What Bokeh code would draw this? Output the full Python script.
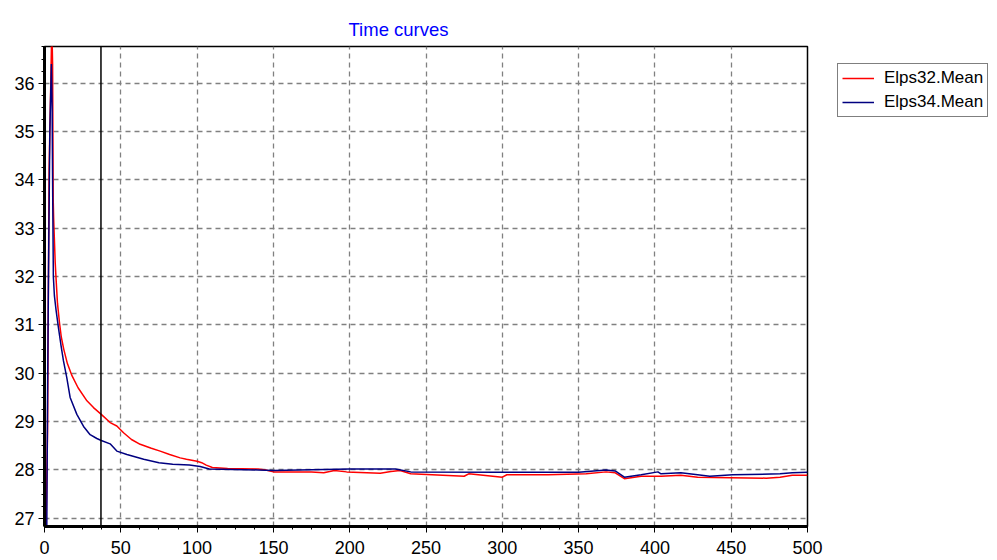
import numpy as np
from bokeh.plotting import figure
from bokeh.models import Range1d, FixedTicker, Span, Legend, LegendItem
from bokeh.embed import file_html
from bokeh.resources import INLINE

# ---------------- data ----------------
red_x = [0, 1, 2, 3, 4, 4.8, 5.3, 5.7, 6, 7, 7.5, 8.5, 9.8, 11, 12.6, 15, 18, 22, 27.8, 32.1,
         37.2, 43, 47.4, 51.8, 57, 62.7, 70, 75.8, 82, 88.9, 93, 100, 103, 106, 110, 120, 140,
         145, 150, 175, 183, 190, 198, 220, 227, 233, 240, 275, 278, 300, 303, 330, 355, 368,
         374, 380, 391, 404, 417, 428, 473, 482, 490, 500]
red_y = [26.8, 26.8, 28.8, 34.2, 35.8, 37.2, 36.4, 33.6, 33.2, 32.3, 32.0, 31.45, 31.05, 30.75,
         30.5, 30.2, 29.95, 29.7, 29.43, 29.29, 29.15, 28.98, 28.91, 28.77, 28.63, 28.53, 28.45,
         28.39, 28.32, 28.25, 28.22, 28.18, 28.15, 28.1, 28.05, 28.03, 28.02, 28.0, 27.96, 27.96,
         27.94, 27.99, 27.96, 27.93, 27.97, 27.99, 27.92, 27.87, 27.92, 27.85, 27.9, 27.9, 27.92,
         27.96, 27.94, 27.82, 27.87, 27.87, 27.89, 27.85, 27.83, 27.85, 27.89, 27.89]

blue_x = [0, 1.5, 2, 2.6, 3.5, 4.5, 5.0, 5.3, 5.8, 6.5, 7.6, 9.1, 10.7, 12.4, 14.6, 16.8,
          21.2, 25.6, 29.9, 34.3, 37.2, 43, 47.4, 54, 65, 75, 84, 95, 102, 108, 140, 150, 200,
          230, 240, 300, 350, 368, 374, 380, 391, 402, 404, 417, 428, 436, 451, 482, 490, 500]
blue_y = [26.8, 26.8, 29.5, 32.0, 35.0, 36.4, 35.5, 34.0, 32.0, 31.6, 31.3, 30.95, 30.6, 30.26,
          29.91, 29.5, 29.15, 28.9, 28.73, 28.65, 28.61, 28.54, 28.39, 28.32, 28.22, 28.15,
          28.12, 28.1, 28.07, 28.02, 28.0, 27.99, 28.02, 28.02, 27.96, 27.95, 27.95, 28.0,
          27.98, 27.85, 27.9, 27.96, 27.92, 27.94, 27.9, 27.87, 27.9, 27.92, 27.94, 27.95]

series_names = ["Elps32.Mean", "Elps34.Mean"]
x_ticks = [0, 50, 100, 150, 200, 250, 300, 350, 400, 450, 500]
y_ticks = [27, 28, 29, 30, 31, 32, 33, 34, 35, 36]
cursor_x = 37
title_text = "Time curves"

FONT = "Liberation Sans"

p = figure(frame_width=763, frame_height=480,
           min_border_left=44, min_border_right=190, min_border_top=46, min_border_bottom=34,
           x_range=Range1d(0, 500), y_range=Range1d(26.83, 36.76),
           output_backend="svg", toolbar_location=None)

p.background_fill_color = "white"
p.border_fill_color = "white"
p.outline_line_color = "black"
p.outline_line_width = 1.5

# title
p.title.text = title_text
p.title.align = "left"
p.title.offset = 304
p.title.text_color = "#0000ff"
p.title.text_font = FONT
p.title.text_font_style = "normal"
p.title.text_font_size = "18.5px"
p.title.standoff = 14

# axes
x_minor = list(np.arange(x_ticks[0], x_ticks[-1] + 0.1, (x_ticks[1] - x_ticks[0]) / 4))
y_minor = list(np.arange(y_ticks[0] - 1, y_ticks[-1] + 1.01, 0.25))
p.xaxis.ticker = FixedTicker(ticks=x_ticks, minor_ticks=x_minor)
p.yaxis.ticker = FixedTicker(ticks=y_ticks, minor_ticks=y_minor)
for ax in (p.xaxis[0], p.yaxis[0]):
    ax.axis_line_width = 3
    ax.axis_line_color = "black"
    ax.major_tick_out = 6
    ax.major_tick_in = 0
    ax.minor_tick_out = 3
    ax.minor_tick_in = 0
    ax.major_tick_line_color = "black"
    ax.minor_tick_line_color = "black"
    ax.major_label_text_font = FONT
    ax.major_label_text_font_size = "18px"
    ax.major_label_text_color = "black"
p.xaxis.major_label_standoff = 8
p.yaxis.major_label_standoff = 4

p.grid.grid_line_color = "#808080"
p.grid.grid_line_dash = "5 4"
p.grid.grid_line_width = 1.3

# cursor
p.add_layout(Span(location=cursor_x, dimension="height", line_color="black", line_width=1.5))

# series
r_red = p.line(red_x, red_y, line_color="#ff0000", line_width=1.5)
r_blue = p.line(blue_x, blue_y, line_color="#000080", line_width=1.5)

legend = Legend(items=[LegendItem(label=series_names[0], renderers=[r_red]),
                       LegendItem(label=series_names[1], renderers=[r_blue])],
                location=(30, 409))
legend.padding = 4
legend.spacing = 4
legend.glyph_height = 20
legend.label_height = 20
legend.glyph_width = 32
legend.label_standoff = 10
legend.label_text_font = FONT
legend.label_text_font_size = "17px"
legend.margin = 0
legend.border_line_width = 1
legend.background_fill_color = "white"
legend.background_fill_alpha = 1
legend.border_line_color = "black"
legend.label_text_color = "black"
p.add_layout(legend, "right")

open("out.html", "w").write(file_html(p, INLINE))
